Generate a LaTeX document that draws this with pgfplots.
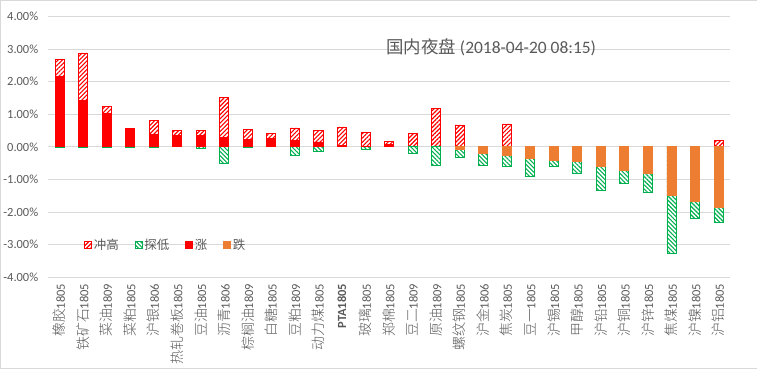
\documentclass[border=0pt]{standalone}
\usepackage{pgfplots}
\pgfplotsset{compat=1.18}
\usepackage{pgfplotstable}
\usetikzlibrary{patterns.meta}
\usepackage{fontspec}
\setmainfont{Carlito}
\newfontfamily\cjk{Noto Sans CJK SC}
\newfontfamily\cjkl{Noto Sans CJK SC Light}[Scale=1.12]
\definecolor{txt}{HTML}{595959}
\definecolor{gridc}{HTML}{D9D9D9}
\definecolor{upred}{HTML}{FF0000}
\definecolor{dnorg}{HTML}{ED7D31}
\definecolor{lowgrn}{HTML}{00B050}

% idx high low up down
\pgfplotstableread{
x high low up down
0 2.68 -0.02 2.15 nan
1 2.88 -0.02 1.43 nan
2 1.25 -0.02 1.02 nan
3 0.56 -0.01 0.56 nan
4 0.82 -0.02 0.39 nan
5 0.51 nan 0.35 nan
6 0.50 -0.04 0.34 nan
7 1.52 -0.50 0.28 nan
8 0.53 -0.02 0.23 nan
9 0.41 nan 0.25 nan
10 0.58 -0.25 0.20 nan
11 0.51 -0.15 0.15 nan
12 0.61 nan 0.03 nan
13 0.44 -0.08 0.02 nan
14 0.17 nan 0.06 nan
15 0.40 -0.20 nan nan
16 1.18 -0.57 nan nan
17 0.67 -0.32 nan -0.08
18 nan -0.56 nan -0.20
19 0.70 -0.59 nan -0.26
20 nan -0.90 nan -0.37
21 nan -0.59 nan -0.41
22 nan -0.83 nan -0.46
23 nan -1.34 nan -0.60
24 nan -1.11 nan -0.73
25 nan -1.40 nan -0.80
26 nan -3.27 nan -1.49
27 nan -2.20 nan -1.68
28 0.20 -2.33 nan -1.86
}\datatable

\begin{document}
\begin{tikzpicture}
\draw[gridc, use as bounding box] (-47.5bp,-91.2bp) rectangle (708.5bp,276.8bp);
\begin{axis}[
  at={(0,0)}, anchor=south west, scale only axis,
  width=682bp, height=260.6bp,
  xmin=-0.5, xmax=28.5, ymin=-4, ymax=4,
  ytick={-4,-3,-2,-1,0,1,2,3,4},
  ymajorgrids, grid style={gridc, line width=0.8pt},
  axis line style={draw=none},
  major tick length=0pt,
  /pgf/number format/assume math mode=true,
  yticklabel={\pgfmathprintnumber[fixed,fixed zerofill,precision=2]{\tick}\%},
  yticklabel style={font=\fontsize{12.5}{13}\selectfont, text=txt, xshift=-6bp},
  xtick={0,...,28},
  xticklabels={
    {\cjkl 橡胶}1805,{\cjkl 铁矿石}1805,{\cjkl 菜油}1809,{\cjkl 菜粕}1805,{\cjkl 沪银}1806,
    {\cjkl 热轧卷板}1805,{\cjkl 豆油}1805,{\cjkl 沥青}1806,{\cjkl 棕榈油}1809,{\cjkl 白糖}1805,
    {\cjkl 豆粕}1809,{\cjkl 动力煤}1805,\textbf{PTA1805},{\cjkl 玻璃}1805,{\cjkl 郑棉}1805,
    {\cjkl 豆二}1809,{\cjkl 原油}1809,{\cjkl 螺纹钢}1805,{\cjkl 沪金}1806,{\cjkl 焦炭}1805,
    {\cjkl 豆一}1805,{\cjkl 沪锡}1805,{\cjkl 甲醇}1805,{\cjkl 沪铅}1805,{\cjkl 沪铜}1805,
    {\cjkl 沪锌}1805,{\cjkl 焦煤}1805,{\cjkl 沪镍}1805,{\cjkl 沪铝}1805},
  xticklabel style={font=\fontsize{12.5}{13}\selectfont, text=txt, rotate=90, anchor=east, xshift=-3bp},
  ybar, bar width=9bp, bar shift=0pt,
  legend columns=4,
  legend style={at={(0.173,0.124)}, anchor=center, draw=none, fill=none,
    font=\fontsize{12.5}{13}\selectfont\cjk, text=txt,
    /tikz/every even column/.append style={column sep=14bp}},
  legend image code/.code={\draw[#1, line width=0.6pt] (0bp,-3.5bp) rectangle (7bp,3.5bp);},
]
\addplot[draw=upred, line width=0.8pt, fill=white, postaction={pattern={Lines[angle=45,distance=3bp,line width=1.1bp]}, pattern color=upred}] table[x=x,y=high]{\datatable};
\addlegendentry{冲高}
\addplot[draw=lowgrn, line width=0.8pt, fill=white, postaction={pattern={Lines[angle=-45,distance=3bp,line width=1.1bp]}, pattern color=lowgrn}] table[x=x,y=low]{\datatable};
\addlegendentry{探低}
\addplot[draw=upred, line width=0.8pt, fill=upred] table[x=x,y=up]{\datatable};
\addlegendentry{涨}
\addplot[draw=dnorg, line width=0.8pt, fill=dnorg] table[x=x,y=down]{\datatable};
\addlegendentry{跌}
\node[text=txt, font=\fontsize{17.5}{18}\selectfont, inner sep=0pt] at (rel axis cs:0.6496,0.88) {{\cjk 国内夜盘} (2018-04-20 08:15)};
\end{axis}
\end{tikzpicture}
\end{document}
